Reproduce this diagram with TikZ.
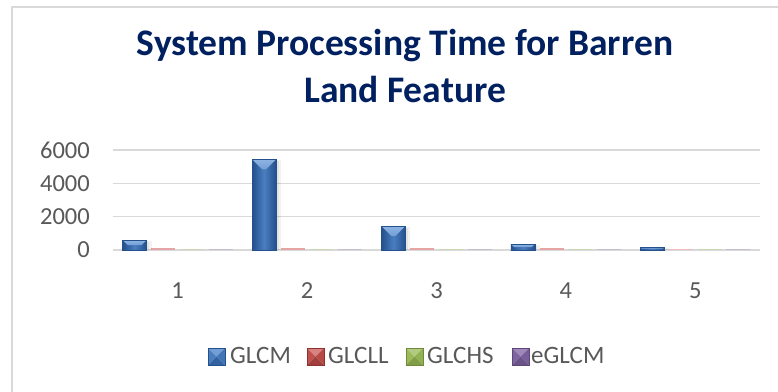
\documentclass[tikz,border=0pt]{standalone}
\usepackage{fontspec}
\setmainfont{Carlito}
\definecolor{framec}{HTML}{D9D9D9}
\definecolor{gridc}{HTML}{D9D9D9}
\definecolor{txt}{HTML}{595959}
\definecolor{titlec}{HTML}{002060}
\definecolor{bL}{HTML}{8EB4E3}
\definecolor{bM}{HTML}{4A7EC0}
\definecolor{bD}{HTML}{24508C}
\definecolor{rL}{HTML}{E6A5A4}
\definecolor{rM}{HTML}{C0504D}
\definecolor{rD}{HTML}{8E3230}
\definecolor{gL}{HTML}{C3D69B}
\definecolor{gM}{HTML}{9BBB59}
\definecolor{gD}{HTML}{6F8A3A}
\definecolor{pL}{HTML}{B3A2C7}
\definecolor{pM}{HTML}{8064A2}
\definecolor{pD}{HTML}{5C4776}
\tikzset{
  axislabel/.style={text=txt, font=\fontsize{24.5}{28}\selectfont, inner sep=0pt},
  legtext/.style={text=txt, font=\fontsize{25}{28}\selectfont, inner sep=0pt, anchor=base west},
  titletext/.style={text=titlec, font=\fontsize{37.5}{43}\selectfont\bfseries, inner sep=0pt, anchor=base},
  gridline/.style={draw=gridc, line width=1.3pt},
}
\newcommand\bluebar[3]{%
  \fill[black,opacity=0.05] ({#1+1},{#2+1}) rectangle ({#1+29},250);
  \fill[black,opacity=0.06] ({#1+1},{#2+2}) rectangle ({#1+26.5},250);
  \shade[left color=bD, right color=bD, middle color=bM] (#1,#2) rectangle ({#1+24},250);
  \shade[top color=bL, bottom color=bL!60!bM] (#1,#2) -- ({#1+24},#2) -- ({#1+24-#3},{#2+#3}) -- ({#1+#3},{#2+#3}) -- cycle;
  \draw[bD, line width=0.6pt] (#1,#2) rectangle ({#1+24},250);
}
\newcommand\flatbar[3]{%
  \fill[#3] (#1,#2) rectangle ({#1+24},250);
}
\newcommand\legsq[4]{%
  \fill[#3!60!#4] (#1,348) -- ({#1+17},348) -- ({#1+8.5},356.5) -- cycle;
  \fill[#4] (#1,348) -- ({#1+8.5},356.5) -- (#1,365) -- cycle;
  \fill[#4!80!#2] ({#1+17},348) -- ({#1+17},365) -- ({#1+8.5},356.5) -- cycle;
  \fill[#2!60!#4] (#1,365) -- ({#1+17},365) -- ({#1+8.5},356.5) -- cycle;
  \draw[#2, line width=0.4pt] (#1,348) rectangle ({#1+17},365);
}
\begin{document}
\begin{tikzpicture}[x=1pt,y=-1pt]
\useasboundingbox (0,0) rectangle (778,391);
\fill[white] (0,0) rectangle (778,391);
% frame
\draw[framec, line width=2pt] (12.2,400) -- (12.2,6.5) -- (790,6.5);
% title
\node[titletext] (t1) at (405,55) {System Processing Time for Barren};
\node[titletext] (t2) at (405,102) {Land Feature};
% grid
\foreach \yy/\lab in {250/0, 216.67/2000, 183.33/4000, 150/6000} {
  \draw[gridline] (113,\yy) -- (760,\yy);
  \node[axislabel, anchor=east] at (90,\yy) {\lab};
}
% category labels
\foreach \cc/\lab in {177.7/1, 307.1/2, 436.5/3, 565.9/4, 695.3/5} {
  \node[axislabel, anchor=base] at (\cc,298) {\lab};
}
% green / purple (near zero)
\foreach \xx in {180.05, 309.45, 438.85, 568.25, 697.65} { \flatbar{\xx}{249.2}{gL!60!gridc} }
\foreach \xx in {208.75, 338.15, 467.55, 596.95, 726.35} { \flatbar{\xx}{249.2}{pL!50!gridc} }
% red
\foreach \xx in {151.35, 280.75, 410.15, 539.55} { \flatbar{\xx}{247.7}{rL} }
\flatbar{668.95}{248.8}{rL!70!white}
% blue
\bluebar{122.65}{240}{5}
\bluebar{252.05}{159.3}{10}
\bluebar{381.45}{226}{10}
\bluebar{510.85}{244}{3}
\bluebar{640.25}{247.3}{1.3}
% legend
\legsq{208}{bD}{bL}{bM}
\node[legtext] (l1) at (230,363) {GLCM};
\legsq{307}{rD}{rL}{rM}
\node[legtext] (l2) at (328,363) {GLCLL};
\legsq{406}{gD}{gL}{gM}
\node[legtext] (l3) at (427,363) {GLCHS};
\legsq{512}{pD}{pL}{pM}
\node[legtext] (l4) at (531,363) {eGLCM};
\end{tikzpicture}
\end{document}
